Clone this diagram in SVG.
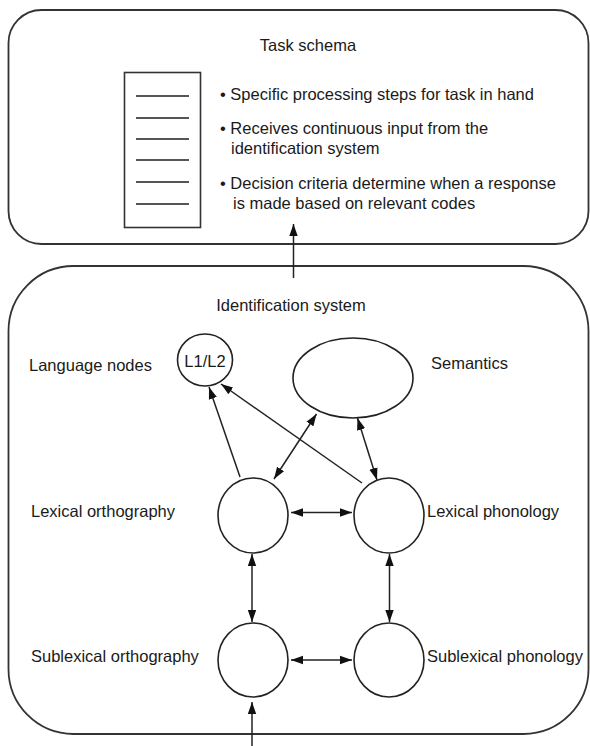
<svg xmlns="http://www.w3.org/2000/svg" width="590" height="746" viewBox="0 0 590 746">
<style>
text{font-family:"Liberation Sans",Arial,sans-serif;font-size:16.5px;fill:#1a1a1a}
.box{fill:none;stroke:#333;stroke-width:1.8}
.node{fill:#fff;stroke:#222;stroke-width:1.6}
.doc{fill:#fff;stroke:#333;stroke-width:1.6}
.dl{stroke:#555;stroke-width:2}
.c{fill:none;stroke:#222;stroke-width:1.5}
.a{marker-end:url(#ah)}
.b{marker-start:url(#ah);marker-end:url(#ah)}
</style>
<defs>
<marker id="ah" markerUnits="userSpaceOnUse" markerWidth="12" markerHeight="10" viewBox="0 0 12 10" refX="12" refY="5" orient="auto-start-reverse">
<path d="M0,0.8 L12,5 L0,9.2 z" fill="#111"/>
</marker>
</defs>
<g id="task-schema">
<rect class="box" x="8.5" y="10" width="580" height="234" rx="33"/>
<text x="308" y="51" text-anchor="middle">Task schema</text>
<rect class="doc" x="124.5" y="72.5" width="76" height="155"/>
<line class="dl" x1="136" y1="96" x2="189" y2="96"/>
<line class="dl" x1="136" y1="118" x2="189" y2="118"/>
<line class="dl" x1="136" y1="139" x2="189" y2="139"/>
<line class="dl" x1="136" y1="160" x2="189" y2="160"/>
<line class="dl" x1="136" y1="182" x2="189" y2="182"/>
<line class="dl" x1="136" y1="204" x2="189" y2="204"/>
<text x="220" y="100">• Specific processing steps for task in hand</text>
<text x="220" y="134">• Receives continuous input from the</text>
<text x="231" y="154">identification system</text>
<text x="220" y="189">• Decision criteria determine when a response</text>
<text x="233" y="209">is made based on relevant codes</text>
</g>
<g id="identification-system">
<rect class="box" x="8.5" y="266" width="580" height="468" rx="65"/>
<text x="291" y="311" text-anchor="middle">Identification system</text>
</g>
<g id="language-nodes">
<ellipse class="node" cx="205" cy="360" rx="27.5" ry="26"/>
<text x="205" y="367" text-anchor="middle">L1/L2</text>
<text x="29" y="371">Language nodes</text>
</g>
<g id="semantics">
<ellipse class="node" cx="353" cy="378" rx="60" ry="40"/>
<text x="431" y="369">Semantics</text>
</g>
<g id="lexical-orthography">
<ellipse class="node" cx="253" cy="515.5" rx="35" ry="37.5"/>
<text x="31" y="517">Lexical orthography</text>
</g>
<g id="lexical-phonology">
<ellipse class="node" cx="389" cy="515.5" rx="35" ry="37.5"/>
<text x="427" y="517">Lexical phonology</text>
</g>
<g id="sublexical-orthography">
<ellipse class="node" cx="253" cy="660" rx="35" ry="37"/>
<text x="31" y="662">Sublexical orthography</text>
</g>
<g id="sublexical-phonology">
<ellipse class="node" cx="389" cy="660" rx="35" ry="37"/>
<text x="427" y="662">Sublexical phonology</text>
</g>
<g id="connectors">
<line class="c a" x1="293.5" y1="278" x2="293.5" y2="224"/>
<line class="c a" x1="252" y1="746" x2="252" y2="702"/>
<line class="c b" x1="252" y1="554" x2="252" y2="622"/>
<line class="c b" x1="389.5" y1="554" x2="389.5" y2="622"/>
<line class="c b" x1="291" y1="512.5" x2="352" y2="512.5"/>
<line class="c b" x1="291" y1="660" x2="352" y2="660"/>
<line class="c a" x1="240" y1="477" x2="209" y2="387"/>
<line class="c a" x1="362" y1="483" x2="221" y2="384"/>
<line class="c b" x1="316.5" y1="414" x2="274" y2="479"/>
<line class="c b" x1="357.5" y1="418" x2="377" y2="480"/>
</g>
</svg>
